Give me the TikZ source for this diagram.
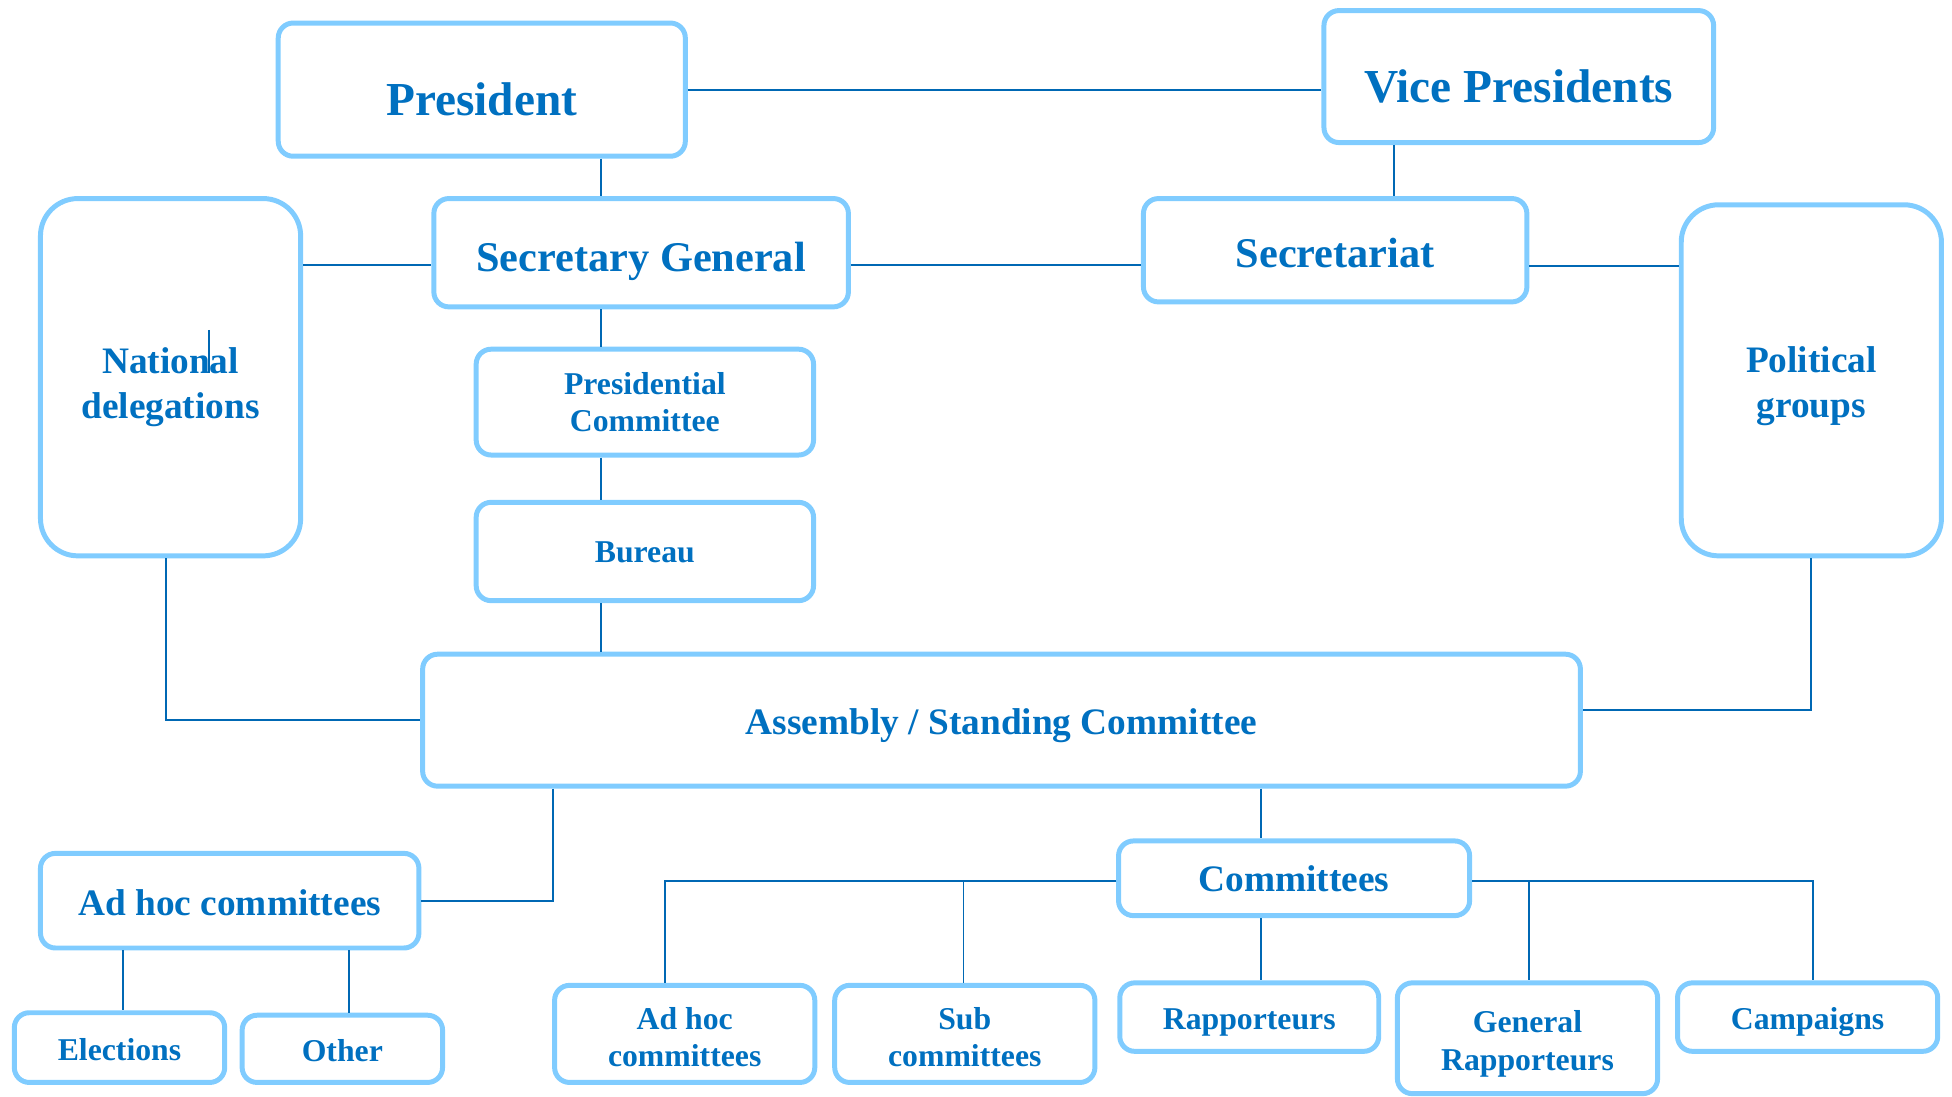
\documentclass[tikz,border=0pt]{standalone}
\usepackage{fontspec}
\setmainfont{Liberation Serif}
\usepackage{tikz}
\usetikzlibrary{calc,positioning,shapes}
\definecolor{txtblue}{RGB}{0,112,192}
\definecolor{boxblue}{RGB}{128,204,255}
\definecolor{lineblue}{RGB}{0,104,180}
\tikzstyle{box}=[draw=boxblue,line width=4pt,rounded corners=12pt,
  text=txtblue,align=center,inner sep=0pt]
\tikzstyle{link}=[draw=lineblue,line width=1.5pt]
\tikzstyle{tall}=[rounded corners=30pt]

\begin{document}
\begin{tikzpicture}[x=1pt,y=-1pt,
    bigbox/.style={box,font=\fontsize{38}{44}\selectfont\bfseries},
    secbox/.style={box,font=\fontsize{34}{40}\selectfont\bfseries},
    midbox/.style={box,font=\fontsize{30}{36}\selectfont\bfseries},
    smallbox/.style={box,font=\fontsize{25.5}{30}\selectfont\bfseries},
    txt/.style 2 args={text height=#1,text depth=#2}
    ]
    \useasboundingbox (0,0) rectangle (1568,881);

    % top row
    \node [bigbox,txt={42pt}{0pt},minimum width=327,minimum height=107] (president) at (387,72) {President};
    \node [bigbox,txt={42pt}{0pt},minimum width=313,minimum height=106] (vicepres) at (1220,61.5) {Vice Presidents};
    \node [secbox,txt={37pt}{7pt},minimum width=333,minimum height=87] (secgen) at (515,203) {Secretary General};
    \node [secbox,txt={28pt}{0pt},minimum width=308,minimum height=83] (secretariat) at (1072.5,201) {Secretariat};

    % side blocks
    \node [midbox,tall,txt={66pt}{0pt},minimum width=209,minimum height=287] (natdel) at (137,303)
      {National\\delegations};
    \node [midbox,tall,txt={59pt}{0pt},minimum width=209,minimum height=282] (polgroups) at (1455,305.5)
      {Political\\groups};

    % middle column
    \node [smallbox,minimum width=271,minimum height=85] (prescom) at (518,323)
      {Presidential\\Committee};
    \node [smallbox,txt={18pt}{0pt},minimum width=271,minimum height=79] (bureau) at (518,443) {Bureau};
    \node [midbox,txt={30pt}{7pt},minimum width=930,minimum height=106] (assembly) at (804.5,578.5)
      {Assembly / Standing Committee};

    % lower level
    \node [midbox,txt={23pt}{0pt},minimum width=304,minimum height=76] (adhoc) at (184.5,723.5) {Ad hoc committees};
    \node [smallbox,txt={20pt}{0pt},minimum width=169,minimum height=56] (elections) at (96,841.5) {Elections};
    \node [smallbox,txt={20pt}{0pt},minimum width=161,minimum height=54] (other) at (275,842.5) {Other};
    \node [midbox,minimum width=282,minimum height=60] (committees) at (1039.5,705.5) {Committees};
    \node [smallbox,txt={53pt}{0pt},minimum width=209,minimum height=78] (adhocsub) at (550,830.5)
      {Ad hoc\\committees};
    \node [smallbox,txt={53pt}{0pt},minimum width=209,minimum height=78] (subcom) at (775,830.5)
      {Sub\\committees};
    \node [smallbox,txt={26pt}{6pt},minimum width=208,minimum height=55] (rapp) at (1003.5,817) {Rapporteurs};
    \node [smallbox,txt={51pt}{0pt},minimum width=209,minimum height=89] (genrapp) at (1227,834)
      {General\\Rapporteurs};
    \node [smallbox,txt={26pt}{6pt},minimum width=209,minimum height=55] (campaigns) at (1452,817) {Campaigns};

    % guide coordinates
    \coordinate (spine) at (483,0);
    \coordinate (vpspine) at (1120,0);
    \coordinate (midrow) at (0,213);
    \coordinate (adhocdrop) at (444,0);
    \coordinate (comspine) at (1013,0);

    % top connectors
    \draw [link] (president.east) -- (president.east -| vicepres.west);
    \draw [link] (president.south -| spine) -- (secgen.north -| spine);
    \draw [link] (vicepres.south -| vpspine) -- (secretariat.north -| vpspine);
    \draw [link] (natdel.east |- midrow) -- (secgen.west |- midrow);
    \draw [link] (secgen.east |- midrow) -- (secretariat.west |- midrow);
    \draw [link] ([yshift=-1pt]secretariat.east |- midrow) -- ([yshift=-1pt]polgroups.west |- midrow);

    % middle column connectors
    \draw [link] (secgen.south -| spine) -- (prescom.north -| spine);
    \draw [link] (prescom.south -| spine) -- (bureau.north -| spine);
    \draw [link] (bureau.south -| spine) -- (assembly.north -| spine);
    \draw [link] ([xshift=-4pt]natdel.south) |- (assembly.west);
    \draw [link] (polgroups.south) |- ([yshift=8pt]assembly.east);

    % lower connectors
    \draw [link] (assembly.south -| adhocdrop) |- (adhoc.east);
    \draw [link] (adhoc.south -| 99,0) -- (elections.north -| 99,0);
    \draw [link] (adhoc.south -| 280,0) -- (other.north -| 280,0);
    \draw [link] (assembly.south -| comspine) -- (committees.north -| comspine);
    \draw [link] (committees.south -| comspine) -- (rapp.north -| comspine);
    \draw [link] ([yshift=-2.5pt]committees.west) -| ([xshift=-16pt]adhocsub.north);
    \draw [link] ([yshift=-2.5pt]committees.west) -| ([xshift=-1pt]subcom.north);
    \draw [link] ([yshift=-2.5pt]committees.east) -| ([xshift=1pt]genrapp.north);
    \draw [link] ([yshift=-2.5pt]committees.east) -| ([xshift=4pt]campaigns.north);

    % stray mark in the side block
    \draw [link] (168,265) -- (168,300);
  \end{tikzpicture}
\end{document}
